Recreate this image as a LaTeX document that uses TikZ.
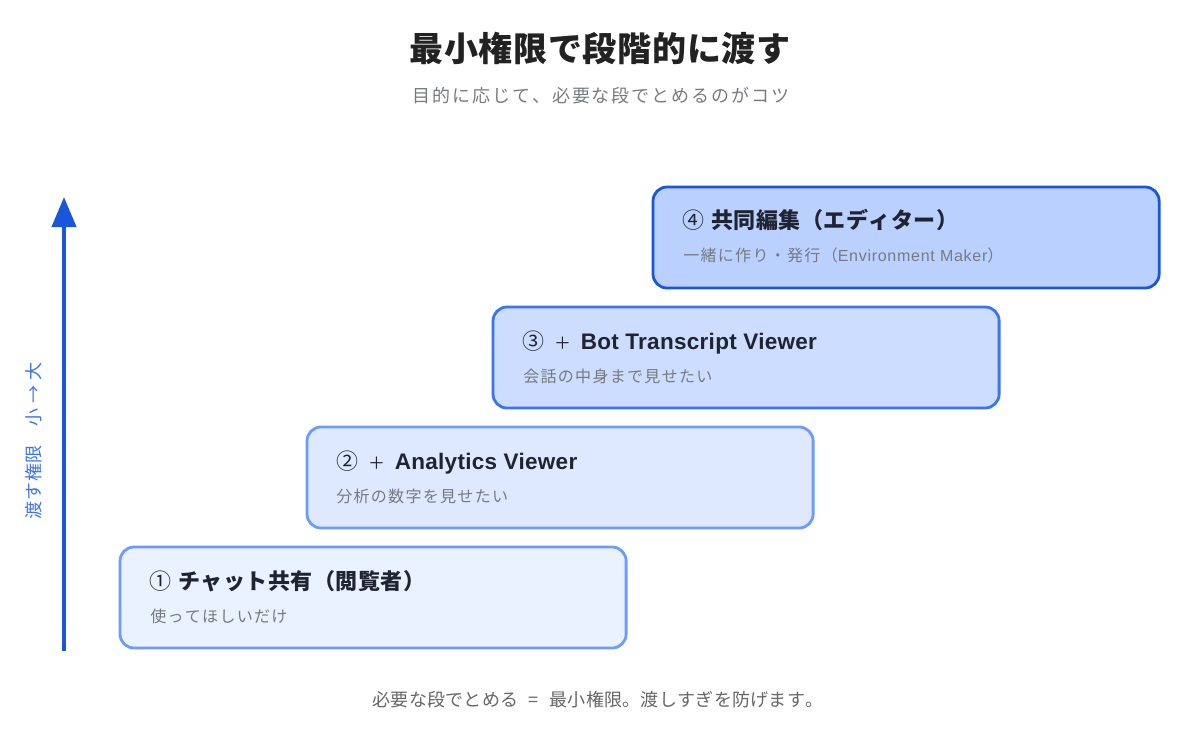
\documentclass[tikz,border=0pt]{standalone}
\usepackage{fontspec}
\setmainfont[Kerning=Off]{Noto Sans CJK JP}
\newfontfamily\latinfont{Liberation Sans}
\usepackage{tikz}
\usetikzlibrary{arrows.meta, positioning}

\definecolor{inktitle}{HTML}{222222}
\definecolor{inkdark}{HTML}{1F2430}
\definecolor{inkgrey}{HTML}{777B80}
\definecolor{inkfoot}{HTML}{666666}
\definecolor{axisblue}{HTML}{1A56DB}
\definecolor{edgelight}{HTML}{6B9BFF}
\definecolor{edgemid}{HTML}{3B74F2}
\newcommand{\fsize}[1]{\fontsize{#1}{#1}\selectfont}
\newcommand{\headgap}{\hspace{0.175cm}}
\newcommand{\plusmark}{\makebox[0.5625cm]{\fsize{12pt}＋}}
\newcommand{\headlatin}[1]{{\latinfont\bfseries\fsize{16pt}\addfontfeatures{LetterSpace=1.3}#1}}

\begin{document}
\begin{tikzpicture}[x=0.025cm, y=-0.025cm,
    stepbox/.style={draw, rounded corners=0.35cm, line width=0.07cm, minimum width=12.65cm, minimum height=2.525cm, inner sep=0pt, outer sep=0pt, anchor=north west},
    heading/.style={anchor=base west, inner sep=0pt, text=inkdark, font=\fsize{15.65pt}\addfontfeatures{LetterSpace=2.3}},
    detail/.style={anchor=base west, inner sep=0pt, text=inkgrey, font=\fsize{11.4pt}\addfontfeatures{LetterSpace=8}}
]
    \useasboundingbox (0,0) rectangle (1200,747);

    % Title and subtitle
    \node[anchor=base, inner sep=0pt, text=inktitle, font=\fsize{24.2pt}\bfseries\addfontfeatures{LetterSpace=2}] (title) at (600,62) {最小権限で段階的に渡す};
    \node[anchor=base, inner sep=0pt, text=inkgrey, font=\fsize{12.8pt}\addfontfeatures{LetterSpace=11}] (subtitle) at (601,103) {目的に応じて、必要な段でとめるのがコツ};

    % Axis on the left
    \coordinate (axisbottom) at (64,651);
    \coordinate (axistop) at (64,197);
    \draw[axisblue, line width=0.1cm, -{Triangle[length=0.75cm, width=0.6cm]}] (axisbottom) -- (axistop);
    \node[rotate=90, inner sep=0pt, text=edgemid, font=\fsize{12.8pt}\addfontfeatures{LetterSpace=3.5}] (axislabel) at (34,441) {渡す権限　小 → 大};

    % Steps
    \node[stepbox, draw=edgelight, fill={rgb,255:red,234;green,241;blue,255}] (step1) at (120,547) {};
    \node[stepbox, draw=edgelight, fill={rgb,255:red,222;green,233;blue,255}] (step2) at (307,427) {};
    \node[stepbox, draw=edgemid, fill={rgb,255:red,204;green,221;blue,255}] (step3) at (493,307) {};
    \node[stepbox, draw=axisblue, fill={rgb,255:red,186;green,208;blue,255}] (step4) at (653,187) {};

    % Step texts
    \node[heading] (head1) at (149,589) {①\headgap{\bfseries チャット共有（閲覧者）}};
    \node[detail] (note1) at (150,622) {使ってほしいだけ};
    \node[heading] (head2) at (336,469) {②\headgap\plusmark\headgap\headlatin{Analytics Viewer}};
    \node[detail] (note2) at (336,502) {分析の数字を見せたい};
    \node[heading] (head3) at (522,349) {③\headgap\plusmark\headgap\headlatin{Bot Transcript Viewer}};
    \node[detail] (note3) at (523,382) {会話の中身まで見せたい};
    \node[heading] (head4) at (682,229) {④\headgap{\bfseries 共同編集（エディター）}};
    \node[detail] (note4) at (683,262) {一緒に作り・発行（{\latinfont\addfontfeatures{LetterSpace=4.4}Environment Maker}）};

    % Footer
    \node[anchor=base, inner sep=0pt, text=inkfoot, font=\fsize{12.8pt}\addfontfeatures{LetterSpace=1.6}] (footer) at (598,706) {必要な段でとめる\makebox[0.775cm]{=}最小権限。渡しすぎを防げます。};
\end{tikzpicture}
\end{document}
